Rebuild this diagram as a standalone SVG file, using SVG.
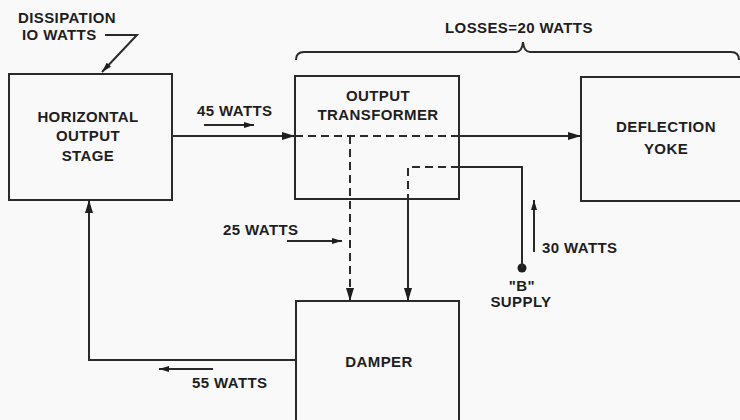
<svg xmlns="http://www.w3.org/2000/svg" width="740" height="420" viewBox="0 0 740 420">
<defs>
<marker id="ah" viewBox="0 0 13 8" refX="13" refY="4" markerWidth="13" markerHeight="8" markerUnits="userSpaceOnUse" orient="auto">
<path d="M0,0 L13,4 L0,8 Z" fill="#1e1e1e"/>
</marker>
<marker id="ahs" viewBox="0 0 10 6" refX="10" refY="3" markerWidth="10" markerHeight="6" markerUnits="userSpaceOnUse" orient="auto">
<path d="M0,0 L10,3 L0,6 Z" fill="#1e1e1e"/>
</marker>
<style>
.box{fill:none;stroke:#2a2a2a;stroke-width:2}
.ln{fill:none;stroke:#2a2a2a;stroke-width:2}
.ds{fill:none;stroke:#2a2a2a;stroke-width:2;stroke-dasharray:8 5}
.t{font-family:"Liberation Sans",Arial,sans-serif;font-weight:bold;font-size:15px;letter-spacing:0.4px;fill:#1e1e1e;text-anchor:middle}
.l{text-anchor:start}
</style>
</defs>
<rect x="0" y="0" width="740" height="420" fill="#f9f9f9"/>

<g id="horizontal-output-stage">
<rect class="box" x="9" y="74" width="163" height="126"/>
<text class="t" x="88" y="122">HORIZONTAL</text>
<text class="t" x="88" y="141">OUTPUT</text>
<text class="t" x="88" y="161">STAGE</text>
</g>

<g id="output-transformer">
<rect class="box" x="295" y="76" width="164" height="123"/>
<text class="t" x="378" y="101">OUTPUT</text>
<text class="t" x="378" y="120">TRANSFORMER</text>
</g>

<g id="deflection-yoke">
<rect class="box" x="581" y="77" width="180" height="124"/>
<text class="t" x="666" y="132">DEFLECTION</text>
<text class="t" x="666" y="154">YOKE</text>
</g>

<g id="damper">
<rect class="box" x="296" y="301" width="163" height="140"/>
<text class="t" x="379" y="367">DAMPER</text>
</g>

<g id="b-supply">
<circle cx="522" cy="268" r="4.5" fill="#1e1e1e"/>
<text class="t" x="522" y="291">"B"</text>
<text class="t" x="521" y="307">SUPPLY</text>
</g>

<g id="connectors">
<path class="ln" d="M105,35 L137,35 L102,72" marker-end="url(#ahs)"/>
<line class="ln" x1="172" y1="136" x2="295" y2="136" marker-end="url(#ah)"/>
<line class="ds" x1="295" y1="136" x2="459" y2="136"/>
<line class="ln" x1="459" y1="136" x2="581" y2="136" marker-end="url(#ah)"/>
<path class="ds" d="M350,136 L350,301" marker-end="url(#ah)"/>
<path class="ds" d="M459,167 L408,167 L408,199"/>
<line class="ln" x1="408" y1="199" x2="408" y2="301" marker-end="url(#ah)"/>
<path class="ln" d="M459,167 L522,167 L522,268"/>
<path class="ln" d="M296,360 L89,360 L89,200" marker-end="url(#ah)"/>
<path class="ln" d="M296,60 Q296,52 304,52 L516,52 Q522,52 523,42 Q524,52 530,52 L731,52 Q739,52 739,60" stroke-width="1.8"/>
<line class="ln" x1="204" y1="125" x2="254" y2="125" marker-end="url(#ahs)"/>
<line class="ln" x1="287" y1="241" x2="342" y2="241" marker-end="url(#ahs)"/>
<line class="ln" x1="534" y1="252" x2="534" y2="200" marker-end="url(#ahs)"/>
<line class="ln" x1="213" y1="369" x2="159" y2="369" marker-end="url(#ahs)"/>
</g>

<g id="labels">
<text class="t l" x="18" y="23">DISSIPATION</text>
<text class="t l" x="22" y="40">IO WATTS</text>
<text class="t l" x="197" y="116">45 WATTS</text>
<text class="t l" x="445" y="33">LOSSES=20 WATTS</text>
<text class="t l" x="223" y="235">25 WATTS</text>
<text class="t l" x="542" y="253">30 WATTS</text>
<text class="t l" x="192" y="388">55 WATTS</text>
</g>
</svg>
